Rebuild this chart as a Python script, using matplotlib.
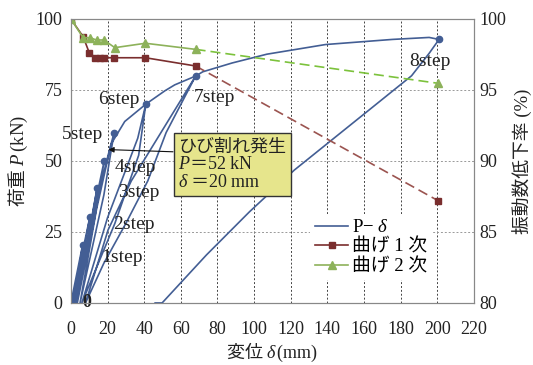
import matplotlib
matplotlib.use('Agg')
import matplotlib.pyplot as plt
from matplotlib.lines import Line2D

plt.rcParams['font.family'] = ['Liberation Serif', 'Noto Sans CJK JP']
plt.rcParams['mathtext.fontset'] = 'custom'
plt.rcParams['mathtext.rm'] = 'Liberation Serif'
plt.rcParams['mathtext.it'] = 'Liberation Serif:italic'
plt.rcParams['mathtext.bf'] = 'Liberation Serif:bold'

# P-delta hysteresis path (mm, kN)
pd_d = [0, 6.4, 4.0, 1.0, 6.0, 10.4, 6.5, 1.5, 8.5, 14.3, 10.0, 2.5, 11.0, 18.2, 13.0, 3.5,
        12.0, 19.5, 23.6, 18.0, 5.0, 14.0, 22.0, 29.4, 40.9, 37.0, 24.0, 6.0, 20.0, 36.5, 40.9,
        51.3, 56.7, 68.1, 52.0, 42.0, 30.0, 18.0, 8.0, 20.3, 33.0, 68.1, 72.0, 88.0, 107.0,
        139.0, 175.5, 195.6, 201.0, 195.6, 186.0, 160.0, 122.0, 97.5, 74.0, 49.8, 46.0]
pd_P = [0, 20.4, 10.0, 0, 17, 30.4, 16, 0, 20, 40.4, 24, 0, 28, 50.1, 30, 0,
        30, 50, 60, 38, 0, 33, 56, 63.9, 70, 52, 28, 0, 30, 58, 70,
        74.7, 76.8, 79.9, 60, 43, 28, 14, 0, 25.7, 43, 79.9, 81.4, 84.5, 87.6,
        91.0, 92.8, 93.5, 92.8, 87.9, 80.0, 66.5, 46.8, 32.1, 16.9, 0, 0]
peak_d = [0, 6.4, 10.4, 14.3, 18.2, 23.6, 40.9, 68.1, 201.0]
peak_P = [0, 20.4, 30.4, 40.4, 50.1, 60, 70, 79.9, 92.8]
step_names = ['1step', '2step', '3step', '4step', '5step', '6step', '7step', '8step']
step_x = [16.7, 23.0, 25.8, 24.0, -4.7, 14.9, 67.2, 184.7]
step_y = [16.1, 27.8, 38.8, 47.8, 59.2, 71.7, 72.4, 85.2]

# frequency drop ratio (%)
b1_d = [0, 6.7, 10, 13.4, 15.8, 18.2, 23.6, 40.7, 68.1]
b1_v = [100, 98.75, 97.63, 97.27, 97.27, 97.27, 97.27, 97.27, 96.69]
b1_ext_d = [68.1, 200.5]
b1_ext_v = [96.69, 87.2]
b2_d = [0, 6.7, 10.4, 14, 18, 24, 40.7, 68.1]
b2_v = [100, 98.68, 98.68, 98.52, 98.52, 97.98, 98.29, 97.86]
b2_ext_d = [68.1, 200.5]
b2_ext_v = [97.86, 95.47]

blue = '#435e94'
red = '#7a2e2e'
red_dash = '#9b5450'
green = '#8db25a'
green_dash = '#7cc23c'
jp = 'Noto Sans CJK JP'

fig = plt.figure(figsize=(5.33, 3.65), dpi=100)
ax = fig.add_axes([0.133, 0.170, 0.756, 0.778])
ax2 = ax.twinx()

ax.plot(pd_d, pd_P, color=blue, lw=1.2, zorder=3)
ax.plot(peak_d, peak_P, 'o', color=blue, ms=4.5, zorder=4)
for name, x, y in zip(step_names, step_x, step_y):
    ax.text(x, y, name, fontsize=14, va='center', ha='left', color='#222222', zorder=5)
ax.text(8.5, 0, '0', fontsize=13, va='center', ha='center', color='#222222', fontweight='bold')

ax.annotate('ひび割れ発生\n$P$＝$\\mathrm{52\\ kN}$\n$\\delta$ ＝$\\mathrm{20\\ mm}$',
            xy=(20.5, 54), xytext=(58.5, 48.8), family=jp,
            fontsize=13, ha='left', va='center', color='#222222', linespacing=1.0,
            bbox=dict(boxstyle='square,pad=0.25', fc='#e6e58c', ec='#333333', lw=1),
            arrowprops=dict(arrowstyle='-|>', color='#111111', lw=0.8, shrinkA=0, shrinkB=0,
                            relpos=(0, 0.73), mutation_scale=8),
            zorder=6)

ax2.plot(b1_ext_d, b1_ext_v, '--', color=red_dash, lw=1.2, dashes=(6, 3))
ax2.plot(b2_ext_d, b2_ext_v, '--', color=green_dash, lw=1.2, dashes=(6, 3))
ax2.plot(b1_d, b1_v, '-s', color=red, lw=1.2, ms=5)
ax2.plot(b1_ext_d[-1:], b1_ext_v[-1:], 's', color=red, ms=5)
ax2.plot(b2_d, b2_v, '-^', color=green, lw=1.2, ms=6)
ax2.plot(b2_ext_d[-1:], b2_ext_v[-1:], '^', color=green, ms=6)

ax.set_xlim(0, 220)
ax.set_ylim(0, 100)
ax2.set_ylim(80, 100)
ax.set_xticks(range(0, 221, 20))
ax.set_yticks([0, 25, 50, 75, 100])
ax2.set_yticks([80, 85, 90, 95, 100])

ax.grid(axis='x', linestyle=(0, (2, 2)), color='#444444', lw=0.7)
ax.grid(axis='y', linestyle=(0, (2, 2)), color='#999999', lw=0.7)
ax.set_axisbelow(True)
for a in (ax, ax2):
    a.tick_params(length=0, labelsize=13, colors='#222222')
    for s in a.spines.values():
        s.set_color('#888888')
ax.tick_params(axis='x', pad=13)
ax.tick_params(axis='y', pad=6)
ax2.tick_params(axis='y', pad=4)

ax.set_xlabel('変位 $\\delta\\,\\mathrm{(mm)}$', family=jp, fontsize=13, color='#222222', labelpad=2)
ax.set_ylabel('荷重 $P\\,\\mathrm{(kN)}$', family=jp, fontsize=13.5, color='#222222', labelpad=4)
ax2.set_ylabel('振動数低下率 (%)', fontsize=13.5, color='#222222', labelpad=4)

handles = [Line2D([], [], color=blue, lw=1.2),
           Line2D([], [], color=red, lw=1.2, marker='s', ms=5),
           Line2D([], [], color=green, lw=1.2, marker='^', ms=6)]
leg = ax2.legend(handles, ['P− $\\delta$', '曲げ 1 次', '曲げ 2 次'], loc='upper left',
                 bbox_to_anchor=(0.57, 0.345), frameon=True, fontsize=13.5,
                 handlelength=1.8, handletextpad=0.2, labelspacing=0.12, borderpad=0.25)
leg.get_frame().set_edgecolor('none')
leg.get_frame().set_facecolor('white')
leg.get_frame().set_alpha(1)

fig.savefig('out.png', dpi=100)
